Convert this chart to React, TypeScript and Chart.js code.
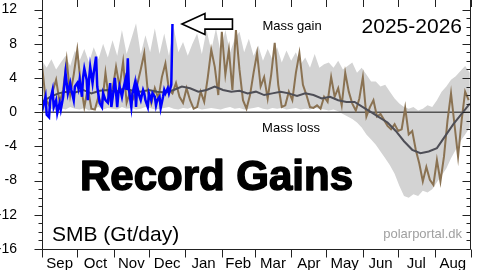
import React, { useEffect, useRef } from "react";
import { Chart, registerables } from "chart.js";

Chart.register(...registerables);

// ---------- data ----------
const monthNames = ["Sep", "Oct", "Nov", "Dec", "Jan", "Feb", "Mar", "Apr", "May", "Jun", "Jul", "Aug"];
const monthStartDays = [0, 30, 61, 91, 122, 153, 181, 212, 242, 273, 303, 334, 365];
const yTickValues = [-16, -12, -8, -4, 0, 4, 8, 12];

// min/max envelope of earlier years (every 4 days)
const bandDays = Array.from({ length: 92 }, (_, i) => i * 4);
const bandMax = [
  6.0, 5.2, 6.2, 5.0, 5.8, 6.6, 5.4, 7.2, 6.0, 7.4,
  5.8, 7.6, 6.2, 8.0, 6.4, 8.4, 6.6, 9.6, 6.8, 8.6,
  10.4, 6.8, 9.0, 7.0, 9.8, 6.8, 9.2, 6.6, 10.0, 7.0,
  8.2, 6.6, 8.0, 9.2, 6.8, 9.6, 7.2, 9.8, 7.0, 9.6,
  7.0, 8.6, 9.4, 7.0, 8.6, 6.6, 7.8, 6.0, 7.4, 6.2,
  7.6, 5.8, 7.2, 6.0, 7.0, 5.6, 6.4, 5.2, 6.8, 5.2,
  5.6, 5.8, 5.2, 6.0, 5.0, 5.4, 5.8, 4.6, 5.2, 4.4,
  3.6, 3.6, 3.0, 3.2, 2.4, 1.6, 1.0, 0.6, 0.4, 0.6,
  0.2, 0.4, 0.8, 0.6, 1.4, 2.4, 3.0, 3.8, 4.2, 4.8,
  5.4, 4.6,
];
const bandMin = [
  0.3, 0.0, 0.4, 0.2, 0.5, 0.3, 0.6, 0.4, 0.3, 0.5,
  0.2, 0.4, 0.6, 0.3, 0.5, 0.4, 0.3, 0.6, 0.4, 0.5,
  0.3, 0.4, 0.6, 0.5, 0.3, 0.4, 0.5, 0.6, 0.4, 0.3,
  0.5, 0.4, 0.6, 0.5, 0.3, 0.4, 0.5, 0.4, 0.3, 0.5,
  0.6, 0.4, 0.5, 0.3, 0.4, 0.5, 0.6, 0.4, 0.3, 0.5,
  0.4, 0.5, 0.3, 0.4, 0.5, 0.3, 0.4, 0.3, 0.5, 0.4,
  0.3, 0.2, 0.3, 0.1, -0.2, -0.5, -0.8, -1.2, -1.8, -2.6,
  -3.2, -3.8, -4.6, -5.4, -6.2, -7.2, -8.6, -9.8, -10.0, -9.6,
  -9.8, -9.2, -9.4, -9.0, -8.2, -7.4, -6.6, -5.4, -4.4, -3.4,
  -2.6, -1.8,
];

// mean of earlier years (every 7 days)
const meanDays = Array.from({ length: 53 }, (_, i) => i * 7);
const meanVals = [
  1.2, 1.8, 2.2, 2.4, 2.3, 2.6, 2.2, 2.5, 2.6, 2.4,
  2.8, 2.5, 2.4, 2.6, 2.4, 2.3, 2.6, 3.0, 2.8, 2.4,
  2.6, 3.0, 2.6, 2.4, 2.5, 2.2, 2.4, 2.0, 2.2, 2.4,
  2.2, 1.9, 2.2, 2.0, 1.6, 1.8, 1.4, 1.2, 1.2, 0.6,
  0.0, -0.6, -1.2, -2.2, -3.4, -4.4, -4.8, -4.6, -4.2, -2.8,
  -1.4, -0.2, 1.0,
];

// reference year (brown, every 3 days)
const brownDays = Array.from({ length: 122 }, (_, i) => i * 3);
const brownVals = [
  5.5, 1.6, 0.8, 2.4, 3.8, 1.2, 2.6, 6.1, 2.0, 4.4,
  7.3, 3.2, 0.6, 2.8, 0.4, 0.3, 1.8, 0.8, 4.6, 1.4,
  2.6, 5.3, 3.0, 5.9, 1.1, 2.4, 1.6, 3.2, 5.0, 6.9,
  2.4, 1.0, 2.8, 1.6, 4.1, 5.7, 2.6, 2.2, 3.4, 1.8,
  1.1, 2.8, 1.4, 0.4, 0.6, 2.4, 1.2, 4.0, 7.3, 5.3,
  2.0, 9.4, 4.4, 7.3, 2.6, 9.6, 5.0, 1.4, 0.4, 2.0,
  4.6, 6.9, 3.0, 4.1, 1.6, 4.4, 8.1, 3.2, 0.6, 0.8,
  2.4, 1.4, 4.6, 6.9, 3.2, 2.0, 0.6, 0.5, 0.8, 0.4,
  1.8, 1.2, 4.1, 1.8, 2.8, 0.8, 4.6, 2.4, 1.0, 0.2,
  1.6, 4.1, -0.5, 0.6, 1.4, -0.5, -0.2, -0.9, -1.6, -2.0,
  -1.4, -2.2, -2.0, 0.5, -2.6, -2.2, -4.4, -6.0, -8.1, -6.4,
  -7.9, -8.5, -5.6, -8.1, -5.2, -1.0, 2.2, -1.5, -5.2, -1.0,
  2.4, 1.4,
];

// current season 2025-2026 (blue)
const blueDays = [
  0, 3, 4, 6, 7, 9, 10, 12, 13, 15,
  16, 18, 20, 21, 22, 24, 25, 27, 28, 30,
  31, 32, 34, 35, 36, 38, 39, 40, 41, 43,
  44, 46, 47, 49, 51, 52, 54, 56, 58, 59,
  61, 62, 64, 65, 66, 68, 69, 71, 72, 73,
  74, 76, 77, 79, 80, 81, 83, 84, 86, 87,
  88, 90, 91, 93, 94, 96, 97, 98, 100, 101,
  103, 104, 105, 107, 108, 110, 111,
];
const blueVals = [
  0.1, 1.8, -0.3, -0.6, 1.4, 2.6, 0.6, 1.4, -0.1, 1.1,
  0.3, 1.8, 4.6, 3.4, 2.2, 3.4, 2.6, 1.4, 3.0, 3.4,
  2.8, 3.8, 1.8, 4.1, 5.1, 3.8, 1.4, 3.8, 5.3, 3.4,
  4.6, 6.5, 3.0, 1.1, 0.6, 2.2, 1.4, 1.1, 3.4, 0.6,
  2.6, 4.0, 0.6, 2.2, 3.0, 1.8, 2.6, 3.8, 2.6, 6.3,
  2.6, 0.6, 2.2, 3.4, 0.6, 3.0, 1.8, 1.4, 2.6, 2.2,
  1.4, 0.6, 2.2, 1.4, 2.2, 1.8, 0.8, 1.4, 1.8, 0.5,
  1.8, 2.6, 2.2, 2.8, 2.2, 3.2, 10.3,
];

const FONT = "'Liberation Sans', Arial, Helvetica, sans-serif";

const toPts = (days: number[], vals: number[]) => days.map((d, i) => ({ x: d, y: vals[i] }));
const monthMids = monthNames.map((_, i) => (monthStartDays[i] + monthStartDays[i + 1]) / 2);

const overlayPlugin = {
  id: "overlay",
  afterDraw(chart: any) {
    const { ctx, chartArea: a } = chart;
    const xs = chart.scales.x;
    const ys = chart.scales.y;
    ctx.save();
    ctx.strokeStyle = "#222";
    ctx.lineWidth = 1;
    ctx.beginPath();
    const L = Math.round(a.left) + 0.5;
    const R = Math.round(a.right) - 0.5;
    const B = Math.round(a.bottom) + 0.5;
    ctx.moveTo(L, 0);
    ctx.lineTo(L, B);
    ctx.lineTo(R, B);
    ctx.lineTo(R, 0);
    for (let v = -16; v <= 12; v++) {
      const py = Math.round(ys.getPixelForValue(v)) + 0.5;
      const major = v % 4 === 0;
      const len = major ? 8 : 4;
      ctx.moveTo(L - len, py);
      ctx.lineTo(L, py);
      ctx.moveTo(R - len, py);
      ctx.lineTo(R, py);
    }
    for (const d of monthStartDays) {
      const px = Math.round(xs.getPixelForValue(d)) + 0.5;
      ctx.moveTo(px, B);
      ctx.lineTo(px, B + 8);
      ctx.moveTo(px, 0);
      ctx.lineTo(px, 7);
    }
    ctx.stroke();

    // texts
    ctx.fillStyle = "#000";
    ctx.textBaseline = "alphabetic";
    ctx.textAlign = "center";
    ctx.font = `13px ${FONT}`;
    ctx.fillText("Mass gain", 292, 30);
    ctx.fillText("Mass loss", 291, 132);
    ctx.textAlign = "right";
    ctx.font = `21px ${FONT}`;
    ctx.fillText("2025-2026", 462, 33);
    ctx.textAlign = "left";
    ctx.fillText("SMB (Gt/day)", 52, 241);
    ctx.textAlign = "right";
    ctx.fillStyle = "#a0a0a0";
    ctx.font = `13px ${FONT}`;
    ctx.fillText("polarportal.dk", 462, 238);

    ctx.fillStyle = "#000";
    ctx.strokeStyle = "#000";
    ctx.lineWidth = 1.5;
    ctx.lineJoin = "round";
    ctx.textAlign = "center";
    ctx.font = `bold 42px ${FONT}`;
    ctx.fillText("Record Gains", 216.5, 190);
    ctx.strokeText("Record Gains", 216.5, 190);

    // arrow pointing to the latest value
    const n = blueDays.length - 1;
    const tx = xs.getPixelForValue(blueDays[n]) + 9.5;
    const ty = ys.getPixelForValue(blueVals[n]);
    ctx.beginPath();
    ctx.moveTo(tx, ty);
    ctx.lineTo(tx + 23, ty - 10.5);
    ctx.lineTo(tx + 23, ty - 5);
    ctx.lineTo(tx + 50.5, ty - 5);
    ctx.lineTo(tx + 50.5, ty + 5);
    ctx.lineTo(tx + 23, ty + 5);
    ctx.lineTo(tx + 23, ty + 10.5);
    ctx.closePath();
    ctx.fillStyle = "#fff";
    ctx.fill();
    ctx.lineWidth = 1.6;
    ctx.lineJoin = "miter";
    ctx.stroke();
    ctx.restore();
  },
};

export default function App() {
  const ref = useRef<HTMLCanvasElement | null>(null);
  useEffect(() => {
    if (!ref.current) return;
    Chart.defaults.font.family = FONT;
    const line = { pointRadius: 0, tension: 0, fill: false };
    const chart = new Chart(ref.current, {
      type: "line",
      data: {
        datasets: [
          { ...line, label: "2025-2026", data: toPts(blueDays, blueVals), borderColor: "#0000ff", borderWidth: 2.5 },
          { ...line, label: "Mean", data: toPts(meanDays, meanVals), borderColor: "#4e4e56", borderWidth: 2 },
          { ...line, label: "Reference year", data: toPts(brownDays, brownVals), borderColor: "#8a7252", borderWidth: 2 },
          { ...line, label: "Zero", data: [{ x: 0, y: 0 }, { x: 365, y: 0 }], borderColor: "#555", borderWidth: 1.5 },
          {
            ...line,
            label: "Max",
            data: toPts(bandDays, bandMax),
            borderColor: "rgba(0,0,0,0)",
            borderWidth: 0,
            backgroundColor: "#d3d3d3",
            fill: "+1",
          },
          { ...line, label: "Min", data: toPts(bandDays, bandMin), borderColor: "rgba(0,0,0,0)", borderWidth: 0 },
        ],
      },
      options: {
        responsive: false,
        animation: false,
        devicePixelRatio: 1,
        events: [],
        layout: { autoPadding: false, padding: { top: 1, right: 9, left: 0, bottom: 0 } },
        plugins: { legend: { display: false }, tooltip: { enabled: false } },
        scales: {
          x: {
            type: "linear",
            min: 0,
            max: 365,
            grid: { display: false },
            border: { display: false },
            afterBuildTicks: (s: any) => {
              s.ticks = monthMids.map((v) => ({ value: v }));
            },
            afterFit: (s: any) => {
              s.height = 21;
              s.paddingLeft = 0;
              s.paddingRight = 0;
              s.paddingTop = 0;
              s.paddingBottom = 0;
            },
            ticks: {
              autoSkip: false,
              maxRotation: 0,
              padding: -2,
              color: "#000",
              font: { size: 15 },
              callback: (_v: any, i: number) => monthNames[i],
            },
          },
          y: {
            type: "linear",
            min: -16,
            max: 13,
            grid: { display: false },
            border: { display: false },
            afterBuildTicks: (s: any) => {
              s.ticks = yTickValues.map((v) => ({ value: v }));
            },
            afterFit: (s: any) => {
              s.width = 42;
              s.paddingLeft = 0;
              s.paddingRight = 0;
              s.paddingTop = 0;
              s.paddingBottom = 0;
            },
            ticks: { padding: 17, color: "#000", font: { size: 14 } },
          },
        },
      },
      plugins: [overlayPlugin],
    } as any);
    return () => chart.destroy();
  }, []);
  return (
    <div style={{ position: "absolute", left: 0, top: 0, width: 480, height: 270, background: "#fff" }}>
      <canvas ref={ref} width={480} height={270} style={{ display: "block" }} />
    </div>
  );
}
